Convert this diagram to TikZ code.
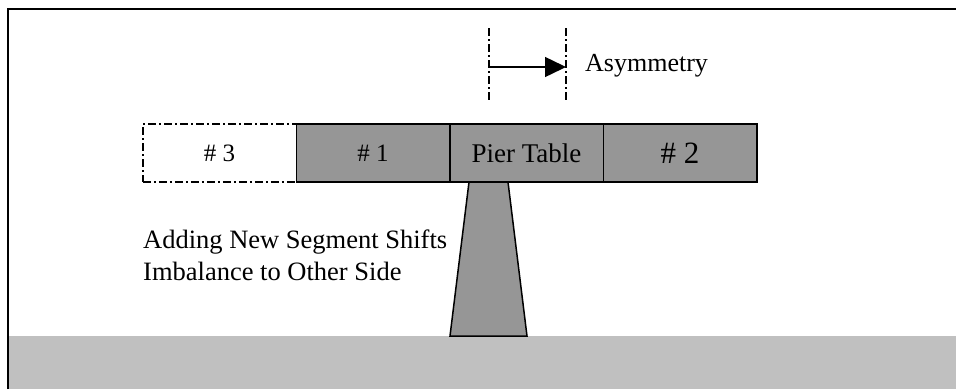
\documentclass[tikz,border=0pt]{standalone}
\usepackage{fontspec}
\setmainfont{Liberation Serif}
\usetikzlibrary{arrows.meta}
\definecolor{segfill}{RGB}{150,150,150}
\definecolor{groundfill}{RGB}{192,192,192}
\tikzset{
  seg/.style={draw=black, line width=1.5pt, fill=segfill, minimum width=153.5pt, minimum height=58pt, inner sep=0pt, font=\fontsize{25}{30}\selectfont},
  ghostseg/.style={seg, fill=none, dash pattern=on 8pt off 3pt on 2pt off 3pt},
  guide/.style={line width=1.3pt, dash pattern=on 8pt off 3pt on 2pt off 3pt},
  lbl/.style={inner sep=0pt, font=\fontsize{26}{32}\selectfont}
}
\begin{document}
\begin{tikzpicture}[x=1pt,y=-1pt]
\useasboundingbox (0,0) rectangle (956,389);
% ground
\fill[groundfill] (9,336) rectangle (956,389);
% frame
\draw[line width=2pt] (8,389) -- (8,9) -- (956,9);
% pier
\draw[line width=1.5pt, fill=segfill, line join=miter] (469,182) -- (508,182) -- (527,336) -- (450,336) -- cycle;
% segments
\node[ghostseg] (s3) at (219.5,153) {\# 3};
\node[seg] (s1) at (373,153) {\# 1};
\node[seg, font=\fontsize{27}{32}\selectfont] (pt) at (526.5,153) {Pier Table};
\node[seg, font=\fontsize{31}{36}\selectfont] (s2) at (680,153) {\# 2};
% asymmetry
\coordinate (a1t) at (489,28);
\coordinate (a1b) at (489,100);
\coordinate (a2t) at (566,28);
\coordinate (a2b) at (566,100);
\coordinate (a1) at (489,67);
\coordinate (a2) at (566,67);
\draw[guide] (a1t) -- (a1b);
\draw[guide] (a2t) -- (a2b);
\draw[line width=1.5pt, -{Triangle[length=21pt,width=20pt]}] (a1) -- (a2);
\node[lbl, anchor=west] (asym) at (585,66) {Asymmetry};
\node[lbl, anchor=north west, align=left, font=\fontsize{26.5}{32}\selectfont] (note) at (143,230) {Adding New Segment Shifts\\Imbalance to Other Side};
\end{tikzpicture}
\end{document}
